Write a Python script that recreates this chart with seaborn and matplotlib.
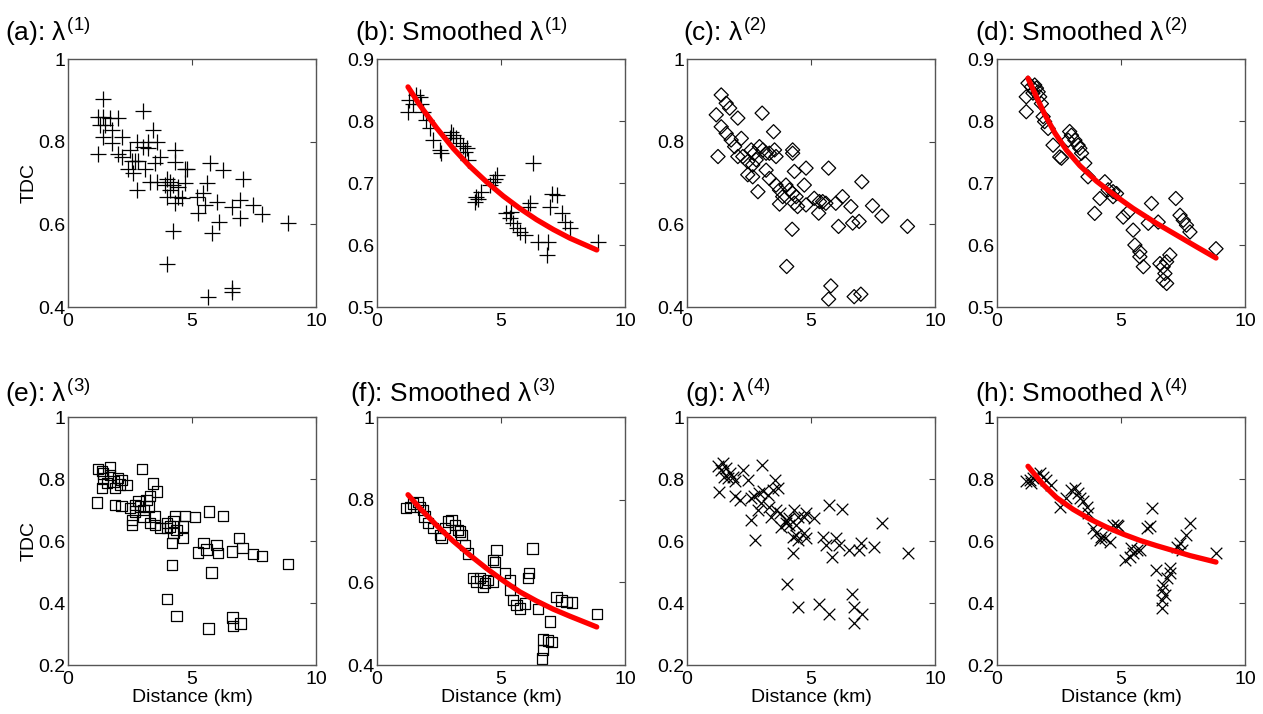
import matplotlib
matplotlib.use("Agg")
import matplotlib.pyplot as plt
import pandas as pd
import seaborn as sns

# (distance km, TDC)
a_pts = [(1.42, 0.903), (3.01, 0.875), (1.22, 0.860), (1.42, 0.860), (1.69, 0.857), (2.03, 0.857),
         (1.29, 0.840), (1.49, 0.840), (1.76, 0.828), (3.44, 0.828), (1.42, 0.812), (2.16, 0.812),
         (1.76, 0.796), (2.77, 0.800), (3.24, 0.800), (3.58, 0.800), (1.22, 0.770), (2.03, 0.770),
         (2.16, 0.764), (2.50, 0.780), (3.04, 0.788), (3.24, 0.784), (2.70, 0.754), (2.84, 0.754),
         (2.57, 0.754), (3.71, 0.764), (3.51, 0.748), (4.31, 0.780), (4.31, 0.752), (2.43, 0.733),
         (2.63, 0.723), (3.10, 0.735), (4.72, 0.735), (4.78, 0.735), (5.73, 0.748), (6.26, 0.731),
         (7.04, 0.709), (3.30, 0.703), (3.58, 0.703), (3.98, 0.710), (4.11, 0.703), (3.91, 0.695),
         (4.25, 0.695), (4.45, 0.691), (4.11, 0.683), (4.72, 0.699), (5.59, 0.699), (2.77, 0.683),
         (3.98, 0.667), (4.45, 0.667), (4.58, 0.663), (5.19, 0.667), (5.46, 0.675), (4.31, 0.651),
         (5.99, 0.655), (6.95, 0.659), (6.60, 0.643), (5.52, 0.647), (5.25, 0.627), (7.45, 0.647),
         (7.81, 0.625), (6.93, 0.615), (6.10, 0.605), (8.86, 0.603), (4.22, 0.584), (5.79, 0.580),
         (4.00, 0.503), (5.66, 0.425), (6.63, 0.447), (6.63, 0.436)]

b_pts = [(1.25, 0.815), (1.29, 0.834), (1.59, 0.842), (1.72, 0.839), (1.45, 0.828), (1.79, 0.828),
         (1.86, 0.815), (1.99, 0.802), (2.13, 0.788), (2.26, 0.769), (2.53, 0.753), (2.60, 0.748),
         (3.00, 0.783), (3.07, 0.777), (2.93, 0.772), (3.20, 0.772), (3.34, 0.764), (3.47, 0.759),
         (3.61, 0.756), (3.54, 0.750), (3.67, 0.737), (6.30, 0.732), (4.82, 0.713), (4.75, 0.707),
         (4.68, 0.702), (4.55, 0.697), (4.21, 0.686), (4.01, 0.678), (3.94, 0.670), (4.08, 0.675),
         (7.04, 0.683), (7.24, 0.680), (6.97, 0.662), (6.16, 0.667), (6.10, 0.662), (5.22, 0.651),
         (5.42, 0.654), (5.36, 0.643), (5.49, 0.635), (5.63, 0.627), (5.76, 0.621), (5.96, 0.616),
         (7.44, 0.651), (7.57, 0.637), (7.78, 0.627), (6.50, 0.605), (6.90, 0.605), (6.84, 0.584),
         (8.90, 0.605)]
b_fit = [(1.25, 0.855), (1.72, 0.826), (2.40, 0.789), (3.07, 0.756), (3.74, 0.727), (4.41, 0.702),
         (5.09, 0.679), (5.76, 0.659), (6.43, 0.641), (7.11, 0.625), (7.78, 0.611), (8.86, 0.592)]

c_pts = [(1.38, 0.913), (1.58, 0.893), (1.72, 0.881), (2.05, 0.857), (1.18, 0.865), (1.38, 0.836),
         (1.58, 0.820), (1.78, 0.804), (2.19, 0.808), (1.92, 0.788), (3.03, 0.869), (3.49, 0.824),
         (1.25, 0.764), (2.05, 0.764), (2.25, 0.764), (2.59, 0.780), (2.72, 0.772), (2.92, 0.788),
         (3.06, 0.780), (3.19, 0.772), (3.32, 0.772), (3.53, 0.780), (3.59, 0.764), (2.45, 0.752),
         (2.65, 0.744), (2.79, 0.756), (4.26, 0.780), (4.26, 0.772), (2.45, 0.720), (2.65, 0.715),
         (3.19, 0.731), (3.32, 0.711), (4.80, 0.736), (4.33, 0.728), (5.71, 0.736), (7.05, 0.703),
         (2.86, 0.679), (3.59, 0.695), (3.73, 0.683), (3.99, 0.695), (4.13, 0.683), (3.86, 0.667),
         (4.26, 0.675), (4.40, 0.667), (4.73, 0.695), (3.73, 0.649), (4.33, 0.651), (4.46, 0.643),
         (4.80, 0.647), (5.13, 0.663), (5.34, 0.655), (5.47, 0.655), (5.60, 0.651), (6.00, 0.651),
         (6.27, 0.667), (6.61, 0.643), (7.48, 0.645), (7.86, 0.620), (5.31, 0.627), (6.11, 0.595),
         (6.68, 0.603), (6.94, 0.607), (8.89, 0.595), (4.24, 0.588), (4.02, 0.498), (5.80, 0.451),
         (5.71, 0.419), (6.74, 0.425), (7.01, 0.431)]

d_pts = [(1.25, 0.861), (1.39, 0.855), (1.52, 0.858), (1.59, 0.853), (1.66, 0.847), (1.45, 0.845),
         (1.72, 0.839), (1.18, 0.839), (1.79, 0.828), (1.18, 0.815), (1.86, 0.807), (1.92, 0.799),
         (2.06, 0.788), (2.26, 0.761), (2.53, 0.742), (2.60, 0.740), (2.93, 0.783), (3.00, 0.777),
         (2.87, 0.769), (3.14, 0.769), (3.27, 0.761), (3.34, 0.756), (3.41, 0.748), (3.54, 0.732),
         (3.67, 0.710), (4.35, 0.702), (4.48, 0.689), (4.68, 0.686), (4.82, 0.683), (4.15, 0.675),
         (4.68, 0.678), (3.94, 0.651), (5.09, 0.645), (5.29, 0.653), (5.49, 0.624), (6.23, 0.667),
         (6.10, 0.635), (6.50, 0.637), (7.21, 0.675), (7.38, 0.648), (7.51, 0.640), (7.64, 0.632),
         (7.78, 0.621), (5.56, 0.600), (5.76, 0.589), (5.76, 0.581), (5.90, 0.565), (6.57, 0.570),
         (6.70, 0.565), (6.84, 0.573), (6.97, 0.584), (6.77, 0.554), (6.70, 0.543), (6.84, 0.538),
         (8.83, 0.594)]
d_fit = [(1.25, 0.869), (1.59, 0.839), (1.92, 0.811), (2.33, 0.781), (2.80, 0.753), (3.34, 0.728),
         (4.01, 0.703), (4.82, 0.678), (5.49, 0.659), (6.43, 0.635), (7.24, 0.616), (8.05, 0.597),
         (8.83, 0.579)]

e_pts = [(1.22, 0.832), (1.36, 0.825), (1.69, 0.839), (1.42, 0.818), (1.69, 0.814), (2.03, 0.803),
         (2.37, 0.781), (2.16, 0.797), (1.42, 0.802), (1.56, 0.786), (1.36, 0.771), (1.83, 0.792),
         (1.90, 0.771), (2.10, 0.782), (2.97, 0.832), (3.44, 0.785), (3.58, 0.760), (1.18, 0.724),
         (1.90, 0.717), (2.16, 0.714), (2.50, 0.706), (2.70, 0.717), (2.84, 0.728), (2.70, 0.695),
         (2.90, 0.711), (3.04, 0.701), (3.17, 0.733), (3.31, 0.746), (3.24, 0.711), (2.57, 0.668),
         (2.57, 0.652), (3.04, 0.679), (3.31, 0.658), (3.51, 0.652), (3.71, 0.641), (3.51, 0.679),
         (3.98, 0.658), (4.11, 0.647), (4.25, 0.663), (3.98, 0.641), (4.31, 0.681), (4.72, 0.681),
         (5.12, 0.677), (4.38, 0.636), (4.65, 0.647), (4.65, 0.609), (4.18, 0.593), (4.25, 0.625),
         (5.69, 0.695), (6.26, 0.681), (5.46, 0.593), (5.25, 0.563), (5.59, 0.573), (5.99, 0.587),
         (6.06, 0.561), (6.60, 0.566), (6.90, 0.609), (7.04, 0.577), (7.45, 0.557), (7.81, 0.552),
         (8.86, 0.525), (4.19, 0.523), (5.79, 0.498), (4.00, 0.412), (4.38, 0.358), (5.66, 0.318),
         (6.63, 0.353), (6.64, 0.326), (6.96, 0.334)]

f_pts = [(1.18, 0.779), (1.32, 0.783), (1.45, 0.791), (1.66, 0.795), (1.72, 0.783), (1.86, 0.775),
         (1.92, 0.759), (2.06, 0.743), (2.26, 0.731), (2.60, 0.707), (2.53, 0.715), (2.73, 0.731),
         (2.87, 0.747), (3.00, 0.751), (3.14, 0.739), (3.27, 0.727), (3.41, 0.715), (3.34, 0.723),
         (3.54, 0.691), (3.67, 0.670), (4.82, 0.678), (4.68, 0.654), (4.75, 0.650), (6.27, 0.682),
         (3.88, 0.610), (4.01, 0.602), (4.15, 0.610), (4.35, 0.598), (4.28, 0.590), (4.48, 0.606),
         (4.68, 0.602), (5.15, 0.622), (5.36, 0.606), (5.36, 0.581), (5.49, 0.557), (5.63, 0.545),
         (5.76, 0.537), (5.96, 0.549), (6.14, 0.622), (6.10, 0.610), (6.50, 0.535), (6.97, 0.505),
         (7.24, 0.565), (7.44, 0.556), (7.64, 0.553), (7.85, 0.551), (8.86, 0.523), (6.68, 0.462),
         (6.90, 0.459), (7.04, 0.456), (6.70, 0.436), (6.64, 0.416)]
f_fit = [(1.25, 0.812), (1.72, 0.780), (2.40, 0.738), (3.07, 0.700), (3.74, 0.666), (4.41, 0.634),
         (5.09, 0.604), (5.76, 0.577), (6.43, 0.555), (7.11, 0.535), (7.78, 0.518), (8.86, 0.492)]

g_pts = [(1.25, 0.841), (1.45, 0.851), (1.38, 0.830), (1.58, 0.835), (1.72, 0.819), (1.85, 0.808),
         (1.65, 0.803), (1.92, 0.792), (2.25, 0.830), (2.45, 0.798), (1.51, 0.808), (3.03, 0.846),
         (3.53, 0.798), (1.31, 0.757), (1.92, 0.746), (2.12, 0.733), (2.59, 0.738), (2.72, 0.744),
         (2.92, 0.754), (3.06, 0.760), (3.26, 0.749), (3.46, 0.765), (3.66, 0.771), (2.59, 0.668),
         (2.86, 0.701), (3.00, 0.722), (3.32, 0.711), (3.39, 0.679), (3.59, 0.701), (3.73, 0.690),
         (2.76, 0.604), (3.79, 0.646), (3.98, 0.668), (4.13, 0.674), (3.99, 0.657), (4.33, 0.701),
         (4.46, 0.679), (4.13, 0.652), (4.40, 0.652), (4.73, 0.679), (4.80, 0.690), (5.13, 0.674),
         (4.26, 0.614), (4.40, 0.619), (4.73, 0.625), (4.46, 0.604), (4.80, 0.609), (5.73, 0.717),
         (6.27, 0.704), (7.86, 0.657), (5.47, 0.614), (5.60, 0.588), (6.00, 0.609), (6.14, 0.588),
         (6.54, 0.571), (7.01, 0.593), (6.94, 0.571), (7.55, 0.582), (8.93, 0.561), (4.26, 0.561),
         (5.84, 0.550), (4.03, 0.461), (6.65, 0.429), (4.46, 0.386), (5.31, 0.397), (5.73, 0.365),
         (6.74, 0.388), (7.05, 0.365), (6.74, 0.337)]

h_pts = [(1.18, 0.792), (1.32, 0.798), (1.45, 0.803), (1.59, 0.814), (1.72, 0.819), (1.86, 0.808),
         (1.99, 0.798), (2.19, 0.781), (1.39, 0.787), (2.53, 0.711), (2.80, 0.738), (3.00, 0.765),
         (3.14, 0.771), (3.27, 0.754), (3.34, 0.738), (3.47, 0.728), (3.61, 0.711), (3.67, 0.690),
         (3.88, 0.641), (4.01, 0.625), (4.21, 0.614), (4.35, 0.609), (4.15, 0.604), (4.55, 0.598),
         (4.68, 0.652), (4.82, 0.652), (4.89, 0.647), (6.27, 0.706), (6.03, 0.641), (6.16, 0.647),
         (5.15, 0.539), (5.36, 0.550), (5.49, 0.561), (5.63, 0.571), (5.42, 0.577), (5.76, 0.571),
         (7.78, 0.657), (7.62, 0.620), (7.38, 0.593), (7.24, 0.582), (7.44, 0.571), (8.83, 0.561),
         (6.43, 0.507), (6.97, 0.512), (6.97, 0.496), (6.84, 0.480), (6.70, 0.458), (6.64, 0.442),
         (6.77, 0.426), (6.64, 0.410), (6.64, 0.383)]
h_fit = [(1.25, 0.841), (1.86, 0.782), (2.40, 0.740), (3.07, 0.702), (3.74, 0.671), (4.41, 0.645),
         (5.09, 0.622), (5.76, 0.602), (6.43, 0.585), (7.11, 0.569), (7.78, 0.553), (8.83, 0.532)]

titles = [r"(a): $\lambda^{(1)}$", r"(b): Smoothed $\lambda^{(1)}$",
          r"(c): $\lambda^{(2)}$", r"(d): Smoothed $\lambda^{(2)}$",
          r"(e): $\lambda^{(3)}$", r"(f): Smoothed $\lambda^{(3)}$",
          r"(g): $\lambda^{(4)}$", r"(h): Smoothed $\lambda^{(4)}$"]
y_ranges = [(0.4, 1.0), (0.5, 0.9), (0.4, 1.0), (0.5, 0.9),
            (0.2, 1.0), (0.4, 1.0), (0.2, 1.0), (0.2, 1.0)]
y_ticks = [[0.4, 0.6, 0.8, 1], [0.5, 0.6, 0.7, 0.8, 0.9], [0.4, 0.6, 0.8, 1], [0.5, 0.6, 0.7, 0.8, 0.9],
           [0.2, 0.4, 0.6, 0.8, 1], [0.4, 0.6, 0.8, 1], [0.2, 0.4, 0.6, 0.8, 1], [0.2, 0.4, 0.6, 0.8, 1]]
x_ticks = [0, 5, 10]

points = [a_pts, b_pts, c_pts, d_pts, e_pts, f_pts, g_pts, h_pts]
fits = [None, b_fit, None, d_fit, None, f_fit, None, h_fit]

# marker style per lambda
marker_kw = [
    dict(marker="+", s=120, color="k", linewidth=0.9),
    dict(marker="+", s=120, color="k", linewidth=0.9),
    dict(marker="D", s=52, facecolor="none", edgecolor="k", linewidth=0.9),
    dict(marker="D", s=52, facecolor="none", edgecolor="k", linewidth=0.9),
    dict(marker="s", s=55, facecolor="none", edgecolor="k", linewidth=0.9),
    dict(marker="s", s=55, facecolor="none", edgecolor="k", linewidth=0.9),
    dict(marker="x", s=70, color="k", linewidth=0.9),
    dict(marker="x", s=70, color="k", linewidth=0.9),
]

sns.set_style("white")
plt.rcParams["font.family"] = ["Liberation Sans", "DejaVu Sans"]
plt.rcParams["mathtext.fontset"] = "custom"
plt.rcParams["mathtext.rm"] = "Liberation Sans"
plt.rcParams["mathtext.it"] = "Liberation Sans"
plt.rcParams["mathtext.bf"] = "Liberation Sans:bold"
plt.rcParams["text.color"] = "black"
plt.rcParams["axes.labelcolor"] = "black"
plt.rcParams["xtick.color"] = "black"
plt.rcParams["ytick.color"] = "black"

W, H = 1263, 714
fig = plt.figure(figsize=(W / 100, H / 100), dpi=100)

col_left = [68, 377, 687, 997]
row_top = [59, 417]
size = 248
title_dx = [-63, -22, -4, -22, -63, -27, -2, -22]
title_base = [41, 402]

for i in range(8):
    r, c = divmod(i, 4)
    ax = fig.add_axes([col_left[c] / W, 1 - (row_top[r] + size) / H, size / W, size / H])
    df = pd.DataFrame(points[i], columns=["dist", "tdc"])
    sns.scatterplot(data=df, x="dist", y="tdc", ax=ax, legend=False, **marker_kw[i])
    if fits[i] is not None:
        fit = pd.DataFrame(fits[i], columns=["dist", "tdc"])
        sns.lineplot(data=fit, x="dist", y="tdc", ax=ax, color="red", linewidth=3.8,
                     estimator=None, sort=True)
    ax.set_xlim(0, 10)
    ax.set_ylim(*y_ranges[i])
    ax.set_xticks(x_ticks)
    ax.set_xticklabels([f"{v:g}" for v in x_ticks])
    ax.set_yticks(y_ticks[i])
    ax.set_yticklabels([f"{v:g}" for v in y_ticks[i]])
    ax.tick_params(direction="in", length=4, width=0.8, color="#444444",
                   top=True, right=True, labelsize=14, pad=4, labelcolor="black")
    ax.tick_params(axis="y", pad=2)
    for sp in ax.spines.values():
        sp.set_color("#555555")
        sp.set_linewidth(1.0)
    ax.set_xlabel("Distance (km)" if r == 1 else "", fontsize=14, labelpad=1)
    ax.set_ylabel("TDC" if c == 0 else "", fontsize=14, labelpad=0.5)
    fig.text((col_left[c] + title_dx[i]) / W, 1 - title_base[r] / H, titles[i],
             fontsize=19, ha="left", va="baseline", color="black")

fig.savefig("out.png", dpi=100)
